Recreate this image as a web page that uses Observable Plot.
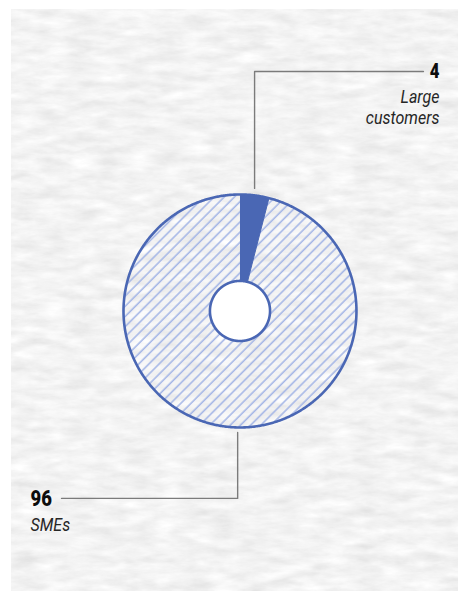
<!DOCTYPE html>
<html>
<head>
<meta charset="utf-8">
<script src="https://cdn.jsdelivr.net/npm/d3@7"></script>
<script src="https://cdn.jsdelivr.net/npm/@observablehq/plot@0.6"></script>
<style>
  html, body { margin: 0; padding: 0; background: #ffffff; width: 458px; height: 591px; overflow: hidden; }
  #paper { position: absolute; left: 11px; top: 9px; width: 447px; height: 582px; }
  #chart { position: absolute; left: 0; top: 0; }
</style>
</head>
<body>
<svg id="paper" width="447" height="582">
  <defs>
    <filter id="grain" x="0" y="0" width="100%" height="100%">
      <feTurbulence type="fractalNoise" baseFrequency="0.035 0.11" numOctaves="5" seed="11" result="n"/>
      <feColorMatrix type="matrix" values="0.15 0.15 0.15 0 0.67  0.15 0.15 0.15 0 0.67  0.15 0.15 0.15 0 0.67  0 0 0 0 1"/>
    </filter>
  </defs>
  <rect width="447" height="582" fill="#e8e8e8"/>
  <rect width="447" height="582" filter="url(#grain)"/>
</svg>
<div id="chart"></div>
<script>
// ---- data ----
const categories = ["Large\ncustomers", "SMEs"];
const values = [4, 96];
const valueLabels = ["4", "96"];

// ---- style / layout ----
const BLUE = "#4a67b4";
const HATCH = "#a5b6e6";
const LEADER = "#7b7b7b";
const R_OUT = 1, R_IN = 0.258;
const FONT = "Roboto, 'Noto Sans', sans-serif";

const pie = d3.pie().sort(null).value(d => d)(values);

function sector(a0, a1, r0, r1, key) {
  const pts = [];
  const n = Math.max(2, Math.ceil((a1 - a0) / (Math.PI / 360)));
  for (let i = 0; i <= n; i++) {
    const a = a0 + (a1 - a0) * i / n;
    pts.push({key, x: r1 * Math.sin(a), y: r1 * Math.cos(a)});
  }
  if (r0 > 0) {
    for (let i = n; i >= 0; i--) {
      const a = a0 + (a1 - a0) * i / n;
      pts.push({key, x: r0 * Math.sin(a), y: r0 * Math.cos(a)});
    }
  }
  return pts;
}

const largeSlice = sector(pie[0].startAngle, pie[0].endAngle, R_IN, R_OUT, categories[0]);
const smeSlice = sector(pie[1].startAngle, pie[1].endAngle, R_IN, R_OUT, categories[1]);
const outerRing = sector(0, 2 * Math.PI, 0, R_OUT, "outer");
const innerRing = sector(0, 2 * Math.PI, 0, R_IN, "inner");

// leader lines anchored on slice mid-angles
const midTop = (pie[0].startAngle + pie[0].endAngle) / 2;
const xTop = R_OUT * Math.sin(midTop);
const annot = [
  {line: [{x: xTop, y: 1.052}, {x: xTop, y: 2.056}, {x: 1.575, y: 2.056}],
   tx: 1.712, ty: 2.056, anchor: "end"},
  {line: [{x: -0.02, y: -1.043}, {x: -0.02, y: -1.609}, {x: -1.532, y: -1.609}],
   tx: -1.798, ty: -1.609, anchor: "start"}
];
const leaderPts = annot.flatMap((a, i) => a.line.map(p => ({...p, k: i})));
const labelRows = annot.map((a, i) => ({x: a.tx, y: a.ty, anchor: a.anchor, num: valueLabels[i], name: categories[i]}));
const topRows = labelRows.filter(d => d.anchor === "end");
const botRows = labelRows.filter(d => d.anchor === "start");

const chart = Plot.plot({
  width: 458,
  height: 591,
  margin: 0,
  style: {background: "transparent", overflow: "visible"},
  x: {domain: [-2.056, 1.876], range: [0, 458], axis: null},
  y: {domain: [-2.408, 2.665], range: [591, 0], axis: null},
  marks: [
    Plot.line(smeSlice, {x: "x", y: "y", fill: "url(#hatch)", stroke: "none"}),
    Plot.line(largeSlice, {x: "x", y: "y", fill: BLUE, stroke: BLUE, strokeWidth: 1}),
    Plot.line(outerRing, {x: "x", y: "y", stroke: BLUE, strokeWidth: 2.6, fill: "none"}),
    Plot.line(innerRing, {x: "x", y: "y", stroke: BLUE, strokeWidth: 2.6, fill: "white"}),
    Plot.line(leaderPts, {x: "x", y: "y", z: "k", stroke: LEADER, strokeWidth: 1.4}),
    Plot.text(topRows, {x: "x", y: "y", text: "num", textAnchor: "end", className: "num",
      fontFamily: FONT, fontWeight: 900, fontSize: 20.5, fill: "#0d0d0d"}),
    Plot.text(botRows, {x: "x", y: "y", text: "num", textAnchor: "start", className: "num",
      fontFamily: FONT, fontWeight: 900, fontSize: 22.5, fill: "#0d0d0d"}),
    Plot.text(topRows, {x: "x", y: "y", text: "name", textAnchor: "end", lineAnchor: "top", dy: 17, className: "lab",
      lineHeight: 1.17, fontFamily: FONT, fontStyle: "italic", fontSize: 18, fill: "#262626"}),
    Plot.text(botRows, {x: "x", y: "y", text: "name", textAnchor: "start", lineAnchor: "top", dy: 17.2, className: "lab",
      lineHeight: 1.17, fontFamily: FONT, fontStyle: "italic", fontSize: 18, fill: "#262626"})
  ]
});

// condensed look for the labels (horizontal squeeze about each anchor)
chart.querySelectorAll(".num text").forEach(t => {
  t.setAttribute("transform", (t.getAttribute("transform") || "") + " scale(0.82,1)");
});
chart.querySelectorAll(".lab text").forEach(t => {
  t.setAttribute("transform", (t.getAttribute("transform") || "") + " scale(0.89,1)");
});

// hatch pattern definition
const ns = "http://www.w3.org/2000/svg";
const defs = document.createElementNS(ns, "defs");
const pat = document.createElementNS(ns, "pattern");
pat.setAttribute("id", "hatch");
pat.setAttribute("patternUnits", "userSpaceOnUse");
pat.setAttribute("width", "7.2");
pat.setAttribute("height", "7.2");
pat.setAttribute("patternTransform", "rotate(45)");
const ln = document.createElementNS(ns, "line");
ln.setAttribute("x1", "2"); ln.setAttribute("y1", "0");
ln.setAttribute("x2", "2"); ln.setAttribute("y2", "7.2");
ln.setAttribute("stroke", HATCH);
ln.setAttribute("stroke-width", "1.6");
pat.appendChild(ln);
defs.appendChild(pat);
chart.insertBefore(defs, chart.firstChild);

document.getElementById("chart").appendChild(chart);
</script>
</body>
</html>
